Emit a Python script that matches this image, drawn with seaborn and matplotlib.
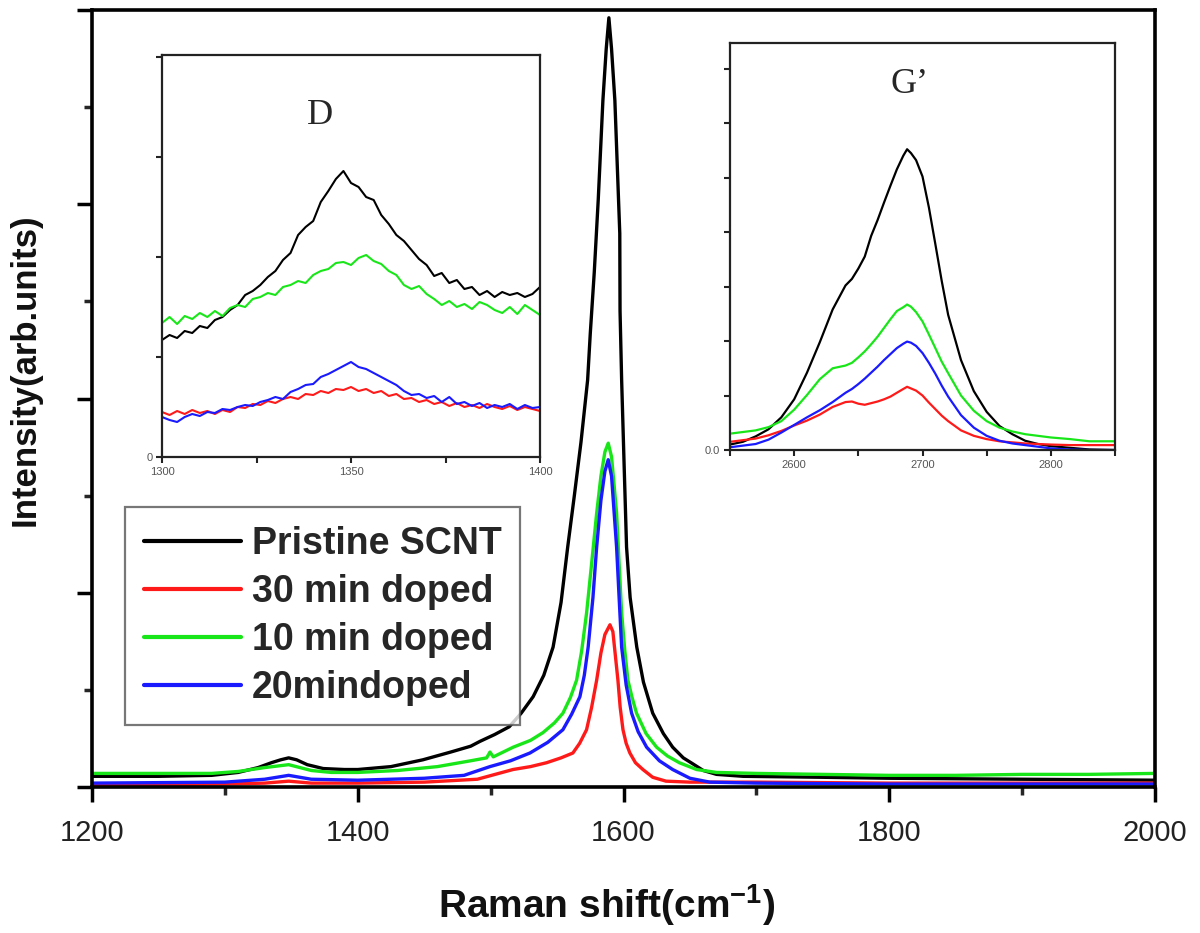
import numpy as np
import pandas as pd
import matplotlib
matplotlib.use("Agg")
import matplotlib.pyplot as plt
import seaborn as sns
from matplotlib.ticker import MultipleLocator

sns.set_theme(style="white")
plt.rcParams['font.family'] = ['Liberation Sans', 'DejaVu Sans']

# ---------------- DATA ----------------
labels = ['Pristine SCNT', '30 min doped', '10 min doped', '20mindoped']
colors = ['#000000', '#ff1a1a', '#19e619', '#1a1aff']

# main spectrum, 1200-2000 cm-1
black_x = [1200, 1250, 1290, 1310, 1325, 1335, 1342, 1348, 1354, 1362, 1374, 1390, 1400,
           1425, 1449, 1470, 1485, 1492, 1503, 1514, 1523, 1532, 1540, 1547, 1553, 1558,
           1563, 1568, 1573, 1575, 1578, 1581, 1584.5, 1587, 1589, 1591, 1593.5, 1597.2,
           1597.4, 1598.6, 1600.5, 1602.3, 1605, 1610, 1615, 1622, 1630, 1637, 1645, 1652,
           1660, 1670, 1690, 1750, 1800, 1900, 2000]
black_y = [0.11, 0.11, 0.12, 0.15, 0.20, 0.25, 0.28, 0.30, 0.28, 0.23, 0.19, 0.18, 0.18,
           0.21, 0.28, 0.36, 0.42, 0.47, 0.54, 0.62, 0.76, 0.93, 1.15, 1.44, 1.90, 2.47,
           3.00, 3.55, 4.19, 4.67, 5.30, 6.05, 7.07, 7.60, 7.92, 7.60, 7.07, 5.70,
           4.90, 4.19, 3.30, 2.47, 1.95, 1.44, 1.08, 0.76, 0.55, 0.41, 0.30, 0.24,
           0.17, 0.13, 0.11, 0.10, 0.09, 0.08, 0.07]

red_x = [1200, 1300, 1330, 1348, 1365, 1400, 1450, 1490, 1516.8, 1530, 1542.1, 1553,
         1561.9, 1567, 1572.2, 1576, 1579.8, 1583, 1586, 1589.8, 1592, 1595.8, 1597.5,
         1599.6, 1602, 1604.8, 1609, 1614.6, 1622, 1632, 1650, 1700, 1800, 2000]
red_y = [0.02, 0.03, 0.04, 0.06, 0.04, 0.04, 0.05, 0.08, 0.18, 0.21, 0.25, 0.30,
         0.35, 0.45, 0.59, 0.82, 1.10, 1.38, 1.57, 1.67, 1.60, 1.10, 0.82,
         0.59, 0.45, 0.35, 0.25, 0.18, 0.10, 0.06, 0.05, 0.05, 0.04, 0.04]

green_x = [1200, 1250, 1290, 1310, 1330, 1348, 1365, 1380, 1400, 1430, 1460, 1485, 1497,
           1499.5, 1502, 1517, 1530, 1539.4, 1548, 1554.4, 1560, 1564.7, 1568.5, 1572.2,
           1576, 1579.8, 1583, 1586, 1588.5, 1591, 1594.8, 1596.7, 1598.6, 1601, 1603.3,
           1606.5, 1609.8, 1617, 1624.9, 1633, 1642, 1655, 1670, 1700, 1750, 1800, 1850,
           1900, 1950, 2000]
green_y = [0.14, 0.14, 0.14, 0.16, 0.20, 0.23, 0.17, 0.15, 0.15, 0.17, 0.21, 0.27, 0.30,
           0.36, 0.31, 0.41, 0.48, 0.56, 0.66, 0.76, 0.92, 1.10, 1.40, 1.79,
           2.30, 2.82, 3.20, 3.45, 3.54, 3.40, 2.82, 2.30, 1.79, 1.40, 1.10,
           0.92, 0.76, 0.55, 0.41, 0.32, 0.25, 0.18, 0.15, 0.14, 0.13, 0.12, 0.12,
           0.13, 0.13, 0.14]

blue_x = [1200, 1300, 1330, 1348, 1365, 1400, 1450, 1480, 1499.5, 1515, 1529.6, 1543,
          1554.4, 1561, 1567.2, 1570.5, 1573.4, 1577, 1579.8, 1583, 1586, 1588.5, 1591,
          1594.8, 1596.7, 1598.6, 1602, 1606.1, 1611, 1617.4, 1627, 1637, 1650, 1665,
          1700, 1800, 2000]
blue_y = [0.04, 0.05, 0.08, 0.12, 0.08, 0.07, 0.09, 0.12, 0.21, 0.27, 0.35, 0.46,
          0.59, 0.75, 0.93, 1.15, 1.44, 1.95, 2.47, 2.95, 3.25, 3.37, 3.20,
          2.47, 1.95, 1.44, 1.05, 0.76, 0.57, 0.41, 0.27, 0.18, 0.09, 0.05,
          0.04, 0.03, 0.03]

# D band inset, 1300-1400 cm-1
d_x = [1300, 1302, 1304, 1306, 1308, 1310, 1312, 1314, 1316, 1318, 1320, 1322, 1324,
       1326, 1328, 1330, 1332, 1334, 1336, 1338, 1340, 1342, 1344, 1346, 1348, 1350,
       1352, 1354, 1356, 1358, 1360, 1362, 1364, 1366, 1368, 1370, 1372, 1374, 1376,
       1378, 1380, 1382, 1384, 1386, 1388, 1390, 1392, 1394, 1396, 1398, 1400]
d_black = [1.17, 1.22, 1.19, 1.26, 1.24, 1.31, 1.29, 1.37, 1.40, 1.47, 1.52, 1.62, 1.66,
           1.72, 1.80, 1.86, 1.97, 2.04, 2.22, 2.30, 2.36, 2.55, 2.66, 2.78, 2.86, 2.74,
           2.70, 2.60, 2.57, 2.42, 2.33, 2.22, 2.16, 2.07, 1.98, 1.92, 1.81, 1.84, 1.74,
           1.77, 1.68, 1.70, 1.62, 1.66, 1.60, 1.65, 1.62, 1.64, 1.60, 1.63, 1.70]
d_red = [0.45, 0.42, 0.46, 0.43, 0.47, 0.44, 0.46, 0.43, 0.47, 0.45, 0.50, 0.49, 0.53,
         0.52, 0.56, 0.54, 0.58, 0.60, 0.58, 0.63, 0.62, 0.66, 0.64, 0.68, 0.67, 0.70,
         0.66, 0.68, 0.64, 0.66, 0.61, 0.63, 0.58, 0.59, 0.55, 0.57, 0.53, 0.55, 0.51,
         0.54, 0.50, 0.52, 0.49, 0.53, 0.50, 0.48, 0.51, 0.47, 0.50, 0.48, 0.46]
d_green = [1.34, 1.40, 1.33, 1.41, 1.38, 1.44, 1.40, 1.46, 1.41, 1.49, 1.52, 1.50, 1.58,
           1.60, 1.64, 1.62, 1.70, 1.72, 1.76, 1.74, 1.82, 1.86, 1.88, 1.94, 1.95, 1.92,
           1.99, 2.02, 1.96, 1.93, 1.86, 1.82, 1.72, 1.68, 1.71, 1.63, 1.58, 1.52, 1.56,
           1.50, 1.53, 1.48, 1.55, 1.52, 1.47, 1.44, 1.50, 1.43, 1.52, 1.47, 1.42]
d_blue = [0.40, 0.37, 0.35, 0.40, 0.43, 0.41, 0.45, 0.44, 0.48, 0.47, 0.50, 0.52, 0.51,
          0.55, 0.57, 0.60, 0.58, 0.65, 0.68, 0.72, 0.73, 0.80, 0.83, 0.87, 0.91, 0.95,
          0.90, 0.88, 0.84, 0.80, 0.76, 0.72, 0.66, 0.62, 0.63, 0.59, 0.61, 0.55, 0.60,
          0.53, 0.55, 0.51, 0.54, 0.49, 0.52, 0.50, 0.53, 0.48, 0.52, 0.49, 0.50]

# G' band inset, 2550-2850 cm-1
g_x = [2550, 2560, 2570, 2580, 2590, 2600, 2610, 2620, 2630, 2640, 2645, 2650, 2655,
       2660, 2665, 2670, 2675, 2680, 2685, 2688, 2691, 2695, 2700, 2705, 2710, 2715,
       2720, 2730, 2740, 2750, 2760, 2770, 2780, 2790, 2800, 2815, 2830, 2850]
g_black = [0.10, 0.15, 0.25, 0.38, 0.60, 0.93, 1.42, 1.98, 2.58, 3.02, 3.14, 3.33, 3.55,
           3.93, 4.22, 4.54, 4.85, 5.15, 5.40, 5.52, 5.45, 5.32, 5.02, 4.45, 3.78, 3.10,
           2.48, 1.65, 1.08, 0.70, 0.44, 0.29, 0.17, 0.11, 0.07, 0.04, 0.01, 0.00]
g_red = [0.15, 0.18, 0.21, 0.27, 0.35, 0.45, 0.54, 0.65, 0.79, 0.88, 0.89, 0.85, 0.83,
         0.86, 0.89, 0.93, 0.98, 1.05, 1.12, 1.16, 1.13, 1.09, 1.00, 0.87, 0.75, 0.63,
         0.53, 0.36, 0.26, 0.20, 0.16, 0.14, 0.12, 0.11, 0.10, 0.09, 0.09, 0.09]
g_green = [0.30, 0.33, 0.36, 0.42, 0.53, 0.74, 1.01, 1.30, 1.50, 1.55, 1.60, 1.70, 1.81,
           1.94, 2.08, 2.24, 2.40, 2.55, 2.62, 2.67, 2.63, 2.53, 2.36, 2.12, 1.87, 1.62,
           1.41, 1.00, 0.72, 0.53, 0.41, 0.34, 0.29, 0.26, 0.23, 0.20, 0.16, 0.16]
g_blue = [0.05, 0.08, 0.11, 0.19, 0.32, 0.46, 0.60, 0.73, 0.88, 1.05, 1.12, 1.21, 1.31,
          1.42, 1.53, 1.65, 1.76, 1.87, 1.95, 1.99, 1.97, 1.91, 1.78, 1.60, 1.40, 1.18,
          0.98, 0.64, 0.41, 0.26, 0.17, 0.12, 0.09, 0.06, 0.03, 0.01, 0.00, 0.00]

main_series = [(black_x, black_y), (red_x, red_y), (green_x, green_y), (blue_x, blue_y)]
d_series = [d_black, d_red, d_green, d_blue]
g_series = [g_black, g_red, g_green, g_blue]

W, H = 1200, 933
fig = plt.figure(figsize=(12, 9.33), dpi=100)


def fbox(x0, y0, x1, y1):
    # pixel box -> figure fraction rect
    return [x0 / W, 1 - y1 / H, (x1 - x0) / W, (y1 - y0) / H]


# ---------------- MAIN AXES ----------------
ax = fig.add_axes(fbox(92, 10, 1155, 787))
for (xs, ys), lab, c in zip(main_series, labels, colors):
    sns.lineplot(x=xs, y=ys, ax=ax, color=c, lw=2.4, label=lab,
                 sort=False, estimator=None)

ax.set_xlim(1200, 2000)
ax.set_ylim(0, 8)
ax.xaxis.set_major_locator(MultipleLocator(200))
ax.xaxis.set_minor_locator(MultipleLocator(100))
ax.yaxis.set_major_locator(MultipleLocator(2))
ax.yaxis.set_minor_locator(MultipleLocator(1))
ax.set_yticklabels([])
ax.tick_params(axis='both', which='major', direction='out', length=11, width=2.5,
               labelsize=21, labelcolor='#222222', color='black', pad=12,
               bottom=True, left=True)
ax.tick_params(axis='both', which='minor', direction='out', length=6, width=2.5,
               bottom=True, left=True)
for sp in ax.spines.values():
    sp.set_linewidth(2.6)
    sp.set_color('black')

ax.set_xlabel('Raman shift(cm$^{\\mathregular{-1}}$)', fontsize=28, fontweight='bold',
              color='#111111')
ax.set_ylabel('Intensity(arb.units)', fontsize=25, fontweight='bold',
              color='#111111')
ax.xaxis.label.set_va('center')
ax.xaxis.set_label_coords(0.484, -0.152)
ax.yaxis.label.set_va('center')
ax.yaxis.set_label_coords(-0.063, 0.537)

leg = ax.legend(loc='upper left', bbox_to_anchor=(125 / W, 1 - 507 / H),
                bbox_transform=fig.transFigure, borderaxespad=0,
                prop={'family': 'Liberation Sans', 'weight': 'bold', 'size': 27},
                handlelength=2.6, handletextpad=0.28, labelspacing=0.32,
                borderpad=0.5, frameon=True, fancybox=False)
leg.get_frame().set_edgecolor('#555555')
leg.get_frame().set_linewidth(1.6)
for line in leg.get_lines():
    line.set_linewidth(3)


def style_inset(a):
    for sp in a.spines.values():
        sp.set_linewidth(1.6)
        sp.set_color('#222222')
    a.tick_params(axis='both', which='both', direction='out', length=4, width=1.5,
                  labelsize=8, labelcolor='#555555', color='#222222', pad=3,
                  bottom=True, left=True)


# ---------------- D INSET ----------------
ax_d = fig.add_axes(fbox(162, 55, 540, 457))
for ys, c in zip(d_series, colors):
    sns.lineplot(x=d_x, y=ys, ax=ax_d, color=c, lw=1.5, sort=False, estimator=None)
ax_d.set_xlim(1300, 1400)
ax_d.set_ylim(0, 4.02)
ax_d.set_xticks([1300, 1350, 1400])
ax_d.set_xticks([1325, 1375], minor=True)
ax_d.set_yticks([0, 1, 2, 3, 4])
ax_d.set_yticklabels(['0', '', '', '', ''])
style_inset(ax_d)
ax_d.set_xlabel('')
ax_d.set_ylabel('')
ax_d.text(0.418, 0.85, 'D', transform=ax_d.transAxes, ha='center', va='center',
          fontsize=26, family='Liberation Serif')

# ---------------- G' INSET ----------------
ax_g = fig.add_axes(fbox(730, 43, 1115, 450))
for ys, c in zip(g_series, colors):
    sns.lineplot(x=g_x, y=ys, ax=ax_g, color=c, lw=1.6, sort=False, estimator=None)
ax_g.set_xlim(2550, 2850)
ax_g.set_ylim(0, 7.47)
ax_g.set_xticks([2600, 2700, 2800])
ax_g.set_xticks([2550, 2650, 2750, 2850], minor=True)
ax_g.set_yticks([0, 1, 2, 3, 4, 5, 6, 7])
ax_g.set_yticklabels(['0.0', '', '', '', '', '', '', ''])
style_inset(ax_g)
ax_g.set_xlabel('')
ax_g.set_ylabel('')
ax_g.text(0.4675, 0.897, 'G\u2019', transform=ax_g.transAxes, ha='center', va='center',
          fontsize=26, family='Liberation Serif')

fig.savefig('out.png', dpi=100)
